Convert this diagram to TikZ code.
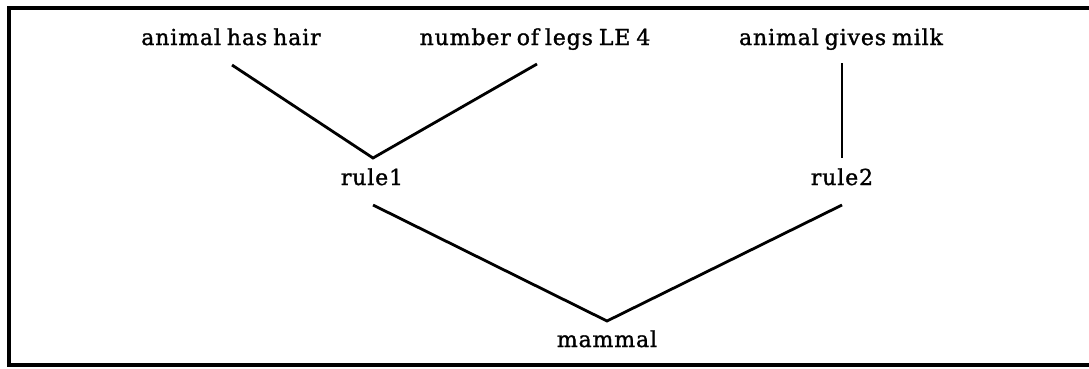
\documentclass[tikz,border=0pt]{standalone}
\usepackage{fontspec}
\setmainfont{DejaVu Serif}[FakeBold=1.3,LetterSpace=4,WordSpace=0.75]
\usetikzlibrary{calc}
\begin{document}
\begin{tikzpicture}[x=1pt,y=-1pt,
  lbl/.style={anchor=base,inner sep=0pt,font=\fontsize{22}{26}\selectfont},
  link/.style={line width=2.8pt},
  frame/.style={line width=3.5pt}]
\useasboundingbox (0,0) rectangle (1089,368);
\coordinate (ftr) at (1089,8);
\coordinate (ftl) at (9,8);
\coordinate (fbl) at (9,365);
\coordinate (fbr) at (1089,365);
\draw[frame] (ftr) -- (ftl) -- (fbl) -- (fbr);
\node[lbl] (hair) at (231,45) {animal has hair};
\node[lbl] (legs) at (535,45) {number of legs LE 4};
\node[lbl] (milk) at (841,45) {animal gives milk};
\node[lbl] (r1) at (372,185) {rule1};
\node[lbl] (r2) at (842,185) {rule2};
\node[lbl] (mam) at (607,347) {mammal};
\coordinate (hairE) at ($(hair.base)+(1,20)$);
\coordinate (legsE) at ($(legs.base)+(2,19)$);
\coordinate (milkE) at ($(milk.base)+(1,18)$);
\coordinate (r1top) at ($(r1.base)+(1,-27)$);
\coordinate (r1bot) at ($(r1.base)+(1,20)$);
\coordinate (r2top) at ($(r2.base)+(0,-27)$);
\coordinate (r2bot) at ($(r2.base)+(0,20)$);
\coordinate (mamtop) at ($(mam.base)+(0,-26)$);
\draw[link] (hairE) -- (r1top) -- (legsE);
\draw[link] (milkE) -- (r2top);
\draw[link] (r1bot) -- (mamtop) -- (r2bot);
\end{tikzpicture}
\end{document}
